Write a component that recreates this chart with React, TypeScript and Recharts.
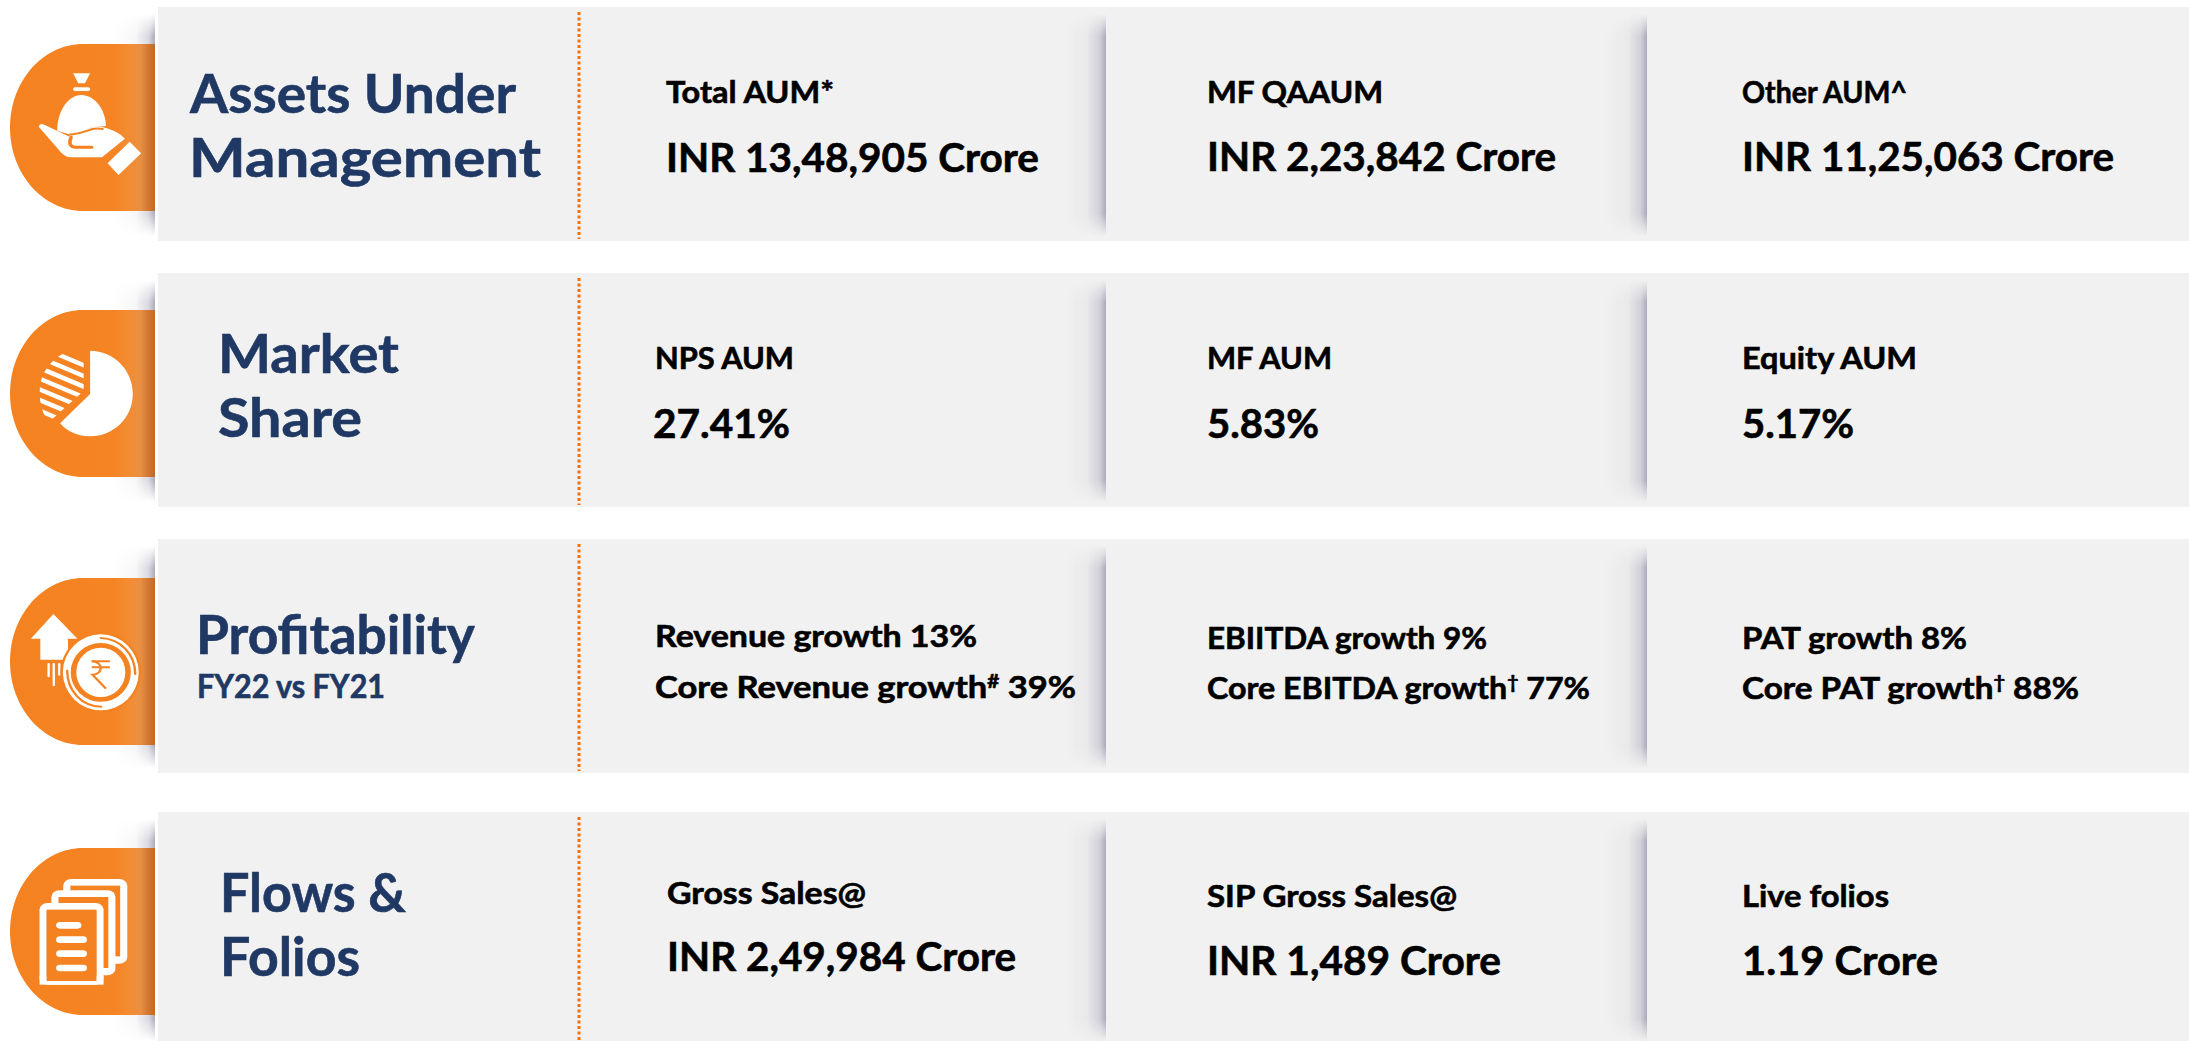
import React from "react";
import { BarChart, Bar, XAxis, YAxis } from "recharts";

// ---- content ----
const rowNames = ["Assets Under Management", "Market Share", "Profitability", "Flows & Folios"];
const titleLines = [["Assets Under", "Management"], ["Market", "Share"], ["Profitability"], ["Flows &", "Folios"]];
const titleNote = ["", "", "FY22 vs FY21", ""];
const firstColumn = [
  ["Total AUM*", "INR 13,48,905 Crore"],
  ["NPS AUM", "27.41%"],
  ["Revenue growth 13%", "Core Revenue growth{#} 39%"],
  ["Gross Sales@", "INR 2,49,984 Crore"],
];
const secondColumn = [
  ["MF QAAUM", "INR 2,23,842 Crore"],
  ["MF AUM", "5.83%"],
  ["EBIITDA growth 9%", "Core EBITDA growth{†} 77%"],
  ["SIP Gross Sales@", "INR 1,489 Crore"],
];
const thirdColumn = [
  ["Other AUM^", "INR 11,25,063 Crore"],
  ["Equity AUM", "5.17%"],
  ["PAT growth 8%", "Core PAT growth{†} 88%"],
  ["Live folios", "1.19 Crore"],
];
const columns = [firstColumn, secondColumn, thirdColumn];

// ---- layout (kept apart from the content) ----
const W = 2189;
const H = 1041;
const spans = { icon: 158, title: 421, first: 527, second: 541, third: 542 };
const chartData = rowNames.map((name) => ({ name, ...spans }));
const ROW_HEIGHT = 234;
const rowNudge = [0, 0, 0, 7];
const orangeTop = [37, 37, 39, 36];
const titleLayout = [
  [{ dx: 32, y: 106, w: 326, fs: 54 }, { dx: 31, y: 170, w: 352, fs: 54 }],
  [{ dx: 60, y: 100, w: 181, fs: 54 }, { dx: 60, y: 164, w: 144, fs: 54 }],
  [{ dx: 38, y: 115, w: 279, fs: 54 }],
  [{ dx: 62, y: 100, w: 186, fs: 54 }, { dx: 62, y: 164, w: 140, fs: 54 }],
];
const noteLayout = { dx: 39, y: 159, w: 188, fs: 32 };
type Cell = { dx: number; y: number; w: number; fs: number };
const L = 30;
const V = 40;
const cellLayout: Cell[][][] = [
  [
    [{ dx: 87, y: 96, w: 168, fs: L }, { dx: 87, y: 165, w: 373, fs: V }],
    [{ dx: 101, y: 96, w: 176, fs: L }, { dx: 101, y: 164, w: 349, fs: V }],
    [{ dx: 95, y: 96, w: 165, fs: L }, { dx: 95, y: 164, w: 372, fs: V }],
  ],
  [
    [{ dx: 76, y: 96, w: 139, fs: L }, { dx: 74, y: 165, w: 137, fs: V }],
    [{ dx: 101, y: 96, w: 125, fs: L }, { dx: 101, y: 165, w: 112, fs: V }],
    [{ dx: 95, y: 96, w: 175, fs: L }, { dx: 95, y: 165, w: 112, fs: V }],
  ],
  [
    [{ dx: 76, y: 108, w: 322, fs: L }, { dx: 76, y: 159, w: 421, fs: L }],
    [{ dx: 101, y: 110, w: 280, fs: L }, { dx: 101, y: 160, w: 383, fs: L }],
    [{ dx: 95, y: 110, w: 225, fs: L }, { dx: 95, y: 160, w: 337, fs: L }],
  ],
  [
    [{ dx: 88, y: 92, w: 199, fs: L }, { dx: 88, y: 159, w: 349, fs: V }],
    [{ dx: 101, y: 95, w: 250, fs: L }, { dx: 101, y: 163, w: 294, fs: V }],
    [{ dx: 95, y: 95, w: 147, fs: L }, { dx: 95, y: 163, w: 196, fs: V }],
  ],
];

const FONT = "Lato, 'Open Sans', sans-serif";
const NAVY = "#1f3864";
const PANEL = "#f1f1f1";
const ORANGE = "#f58220";

function Txt({ x, y, w, fs, fill, text }: any) {
  const parts = String(text).split(/\{|\}/);
  return (
    <text
      x={x}
      y={y}
      fontFamily={FONT}
      fontWeight={700}
      fontSize={fs}
      fill={fill}
      stroke={fill}
      strokeWidth={0.6}
      textLength={w}
      lengthAdjust="spacingAndGlyphs"
    >
      {parts.length === 1
        ? text
        : [
            <tspan key="a">{parts[0]}</tspan>,
            <tspan key="b" fontSize={fs * 0.6} dy={-fs * 0.32}>{parts[1]}</tspan>,
            <tspan key="c" dy={fs * 0.32}>{parts[2]}</tspan>,
          ]}
    </text>
  );
}

function Shadow({ edge, top }: { edge: number; top: number }) {
  return <rect x={edge - 42} y={top + 7} width={42} height={222} fill="url(#shadowX)" mask="url(#shadowMask)" />;
}

function MoneyIcon() {
  return (
    <g fill="#fff">
      <path d="M185,220 L228,220 L215,250 L198,250 Z" />
      <rect x={185} y={262} width={43} height={11} rx={5} />
      <path d="M145,392 C145,330 175,285 205,285 C240,285 268,330 268,378 L232,382 L212,394 L172,402 Z" />
      <path d="M98,380 Q100,368 112,374 L176,410 Q172,392 215,392 Q240,372 270,385 Q300,395 316,416 L258,472 L178,472 Q165,470 155,458 Z" />
      <path d="M180,412 Q170,438 190,442 L232,442" fill="none" stroke={ORANGE} strokeWidth={9} strokeLinecap="round" />
      <path d="M176,404 Q200,402 222,392 Q240,382 262,388" fill="none" stroke={ORANGE} strokeWidth={6} />
      <path d="M328,425 L357,460 L300,525 L272,490 Z" />
    </g>
  );
}

function PieIcon() {
  const stripes = [240, 272, 304, 336, 368, 400, 432, 464];
  return (
    <g>
      <clipPath id="pieStripes">
        <path d="M212,235 L212,362 L122,458 C108,430 100,400 100,365 C100,295 150,237 212,235 Z" />
      </clipPath>
      <g clipPath="url(#pieStripes)" stroke="#fff" strokeWidth={13}>
        {stripes.map((y0) => (
          <line key={y0} x1={80} y1={y0 + 8} x2={230} y2={y0 + 83} transform="translate(0,-28)" />
        ))}
      </g>
      <path d="M228,242 C288,242 336,300 336,372 C336,442 288,499 228,499 C196,499 170,485 152,460 L228,372 Z" fill="#fff" />
    </g>
  );
}

function CoinIcon() {
  return (
    <g>
      <path d="M135,238 L196,312 L172,312 L172,375 L102,375 L102,312 L78,312 Z" fill="#fff" />
      <g stroke="#fff" strokeWidth={6} strokeLinecap="round">
        <line x1={123} y1={388} x2={123} y2={425} />
        <line x1={136} y1={388} x2={136} y2={452} />
        <line x1={150} y1={388} x2={150} y2={420} />
      </g>
      <ellipse cx={255} cy={413} rx={102} ry={120} fill={ORANGE} />
      <ellipse cx={255} cy={413} rx={96} ry={114} fill="#fff" />
      <path d="M255,310 C305,312 342,360 342,418" fill="none" stroke={ORANGE} strokeWidth={6} strokeLinecap="round" />
      <path d="M170,408 C170,470 208,515 256,516" fill="none" stroke={ORANGE} strokeWidth={6} strokeLinecap="round" />
      <ellipse cx={255} cy={413} rx={69} ry={81} fill="none" stroke={ORANGE} strokeWidth={14} />
      <g fill="none" stroke={ORANGE} strokeWidth={6}>
        <path d="M232,380 L278,380 M232,398 L278,398" />
        <path d="M232,380 C262,380 262,420 234,420 L268,462" />
      </g>
    </g>
  );
}

function DocsIcon() {
  const sheet = (x: number, y: number, x2: number, y2: number) => (
    <g key={x}>
      <rect x={x} y={y} width={x2 - x} height={y2 - y} rx={20} fill="#fff" />
      <rect x={x + 18} y={y + 20} width={x2 - x - 36} height={y2 - y - 42} fill={ORANGE} />
    </g>
  );
  return (
    <g>
      {sheet(160, 238, 322, 492)}
      {sheet(130, 272, 292, 527)}
      {sheet(100, 310, 262, 555)}
      <rect x={100} y={530} width={162} height={25} fill="#fff" />
      <rect x={118} y={332} width={126} height={212} fill={ORANGE} />
      <g fill="#fff">
        <rect x={142} y={367} width={64} height={20} rx={10} />
        <rect x={142} y={410} width={78} height={20} rx={10} />
        <rect x={142} y={452} width={78} height={20} rx={10} />
        <rect x={142} y={495} width={78} height={20} rx={10} />
      </g>
    </g>
  );
}

const icons = [MoneyIcon, PieIcon, CoinIcon, DocsIcon];
const iconZoomTop = [132, 120, 130, 145];

function IconShape(props: any) {
  const { index, x, y, width } = props;
  const top = y + rowNudge[index];
  const oTop = top + orangeTop[index];
  const right = x + width - 3;
  const Icon = icons[index];
  return (
    <g>
      <Shadow edge={right} top={top} />
      <path
        d={`M${right},${oTop} L83,${oTop} C43,${oTop} 10,${oTop + 37} 10,${oTop + 83.5} C10,${oTop + 130} 43,${oTop + 167} 83,${oTop + 167} L${right},${oTop + 167} Z`}
        fill="url(#orangeX)"
      />
      <g transform={`translate(0,${oTop - iconZoomTop[index] / 3}) scale(0.3953,0.3333)`}>
        <Icon />
      </g>
    </g>
  );
}

function TitleShape(props: any) {
  const { index, x, y, width } = props;
  const top = y + rowNudge[index];
  return (
    <g>
      <rect x={x} y={top} width={width} height={ROW_HEIGHT} fill={PANEL} />
      {titleLines[index].map((t, i) => {
        const l = titleLayout[index][i];
        return <Txt key={t} x={x + l.dx} y={top + l.y} w={l.w} fs={l.fs} fill={NAVY} text={t} />;
      })}
      {titleNote[index] ? (
        <Txt x={x + noteLayout.dx} y={top + noteLayout.y} w={noteLayout.w} fs={noteLayout.fs} fill={NAVY} text={titleNote[index]} />
      ) : null}
    </g>
  );
}

const metricShape = (col: number) => (props: any) => {
  const { index, x, y, width } = props;
  const top = y + rowNudge[index];
  return (
    <g>
      <rect x={x} y={top} width={width} height={ROW_HEIGHT} fill={PANEL} />
      {col > 0 ? <Shadow edge={x} top={top} /> : null}
      {col === 0 ? (
        <line x1={x} y1={top + 5} x2={x} y2={top + ROW_HEIGHT - 2} stroke="#f96f00" strokeWidth={3} strokeDasharray="3 2.5" />
      ) : null}
      {columns[col][index].map((t, i) => {
        const l = cellLayout[index][col][i];
        return <Txt key={t} x={x + l.dx} y={top + l.y} w={l.w} fs={l.fs} fill="#000" text={t} />;
      })}
    </g>
  );
};

function Defs() {
  return (
    <defs>
      <linearGradient id="shadowX" x1="0" x2="1" y1="0" y2="0">
        <stop offset="0" stopColor="#a6a6b8" stopOpacity={0} />
        <stop offset="0.55" stopColor="#a6a6b8" stopOpacity={0.1} />
        <stop offset="0.85" stopColor="#a6a6b8" stopOpacity={0.45} />
        <stop offset="1" stopColor="#a6a6b8" stopOpacity={0.95} />
      </linearGradient>
      <linearGradient id="shadowY" x1="0" x2="0" y1="0" y2="1">
        <stop offset="0" stopColor="#000" />
        <stop offset="0.1" stopColor="#fff" />
        <stop offset="0.9" stopColor="#fff" />
        <stop offset="1" stopColor="#000" />
      </linearGradient>
      <mask id="shadowMask" maskContentUnits="objectBoundingBox">
        <rect x={0} y={0} width={1} height={1} fill="url(#shadowY)" />
      </mask>
      <linearGradient id="orangeX" gradientUnits="userSpaceOnUse" x1={10} x2={155} y1={0} y2={0}>
        <stop offset="0" stopColor="#f58220" />
        <stop offset="0.72" stopColor="#f58424" />
        <stop offset="0.82" stopColor="#f38c33" />
        <stop offset="0.9" stopColor="#e98f42" />
        <stop offset="0.96" stopColor="#cf7530" />
        <stop offset="1" stopColor="#bf6a26" />
      </linearGradient>
    </defs>
  );
}

export default function App() {
  return (
    <div style={{ position: "absolute", left: 0, top: 0, width: W, height: H, overflow: "hidden", background: "#fff" }}>
      <BarChart
        width={W}
        height={H}
        data={chartData}
        layout="vertical"
        margin={{ top: -9, right: 0, bottom: -14, left: 0 }}
        barCategoryGap={0}
        barSize={ROW_HEIGHT}
      >
        <Defs />
        <XAxis type="number" hide domain={[0, W]} allowDataOverflow />
        <YAxis type="category" dataKey="name" hide width={0} />
        <Bar dataKey="icon" stackId="a" isAnimationActive={false} shape={IconShape} />
        <Bar dataKey="title" stackId="a" isAnimationActive={false} shape={TitleShape} />
        <Bar dataKey="first" stackId="a" isAnimationActive={false} shape={metricShape(0)} />
        <Bar dataKey="second" stackId="a" isAnimationActive={false} shape={metricShape(1)} />
        <Bar dataKey="third" stackId="a" isAnimationActive={false} shape={metricShape(2)} />
      </BarChart>
    </div>
  );
}
